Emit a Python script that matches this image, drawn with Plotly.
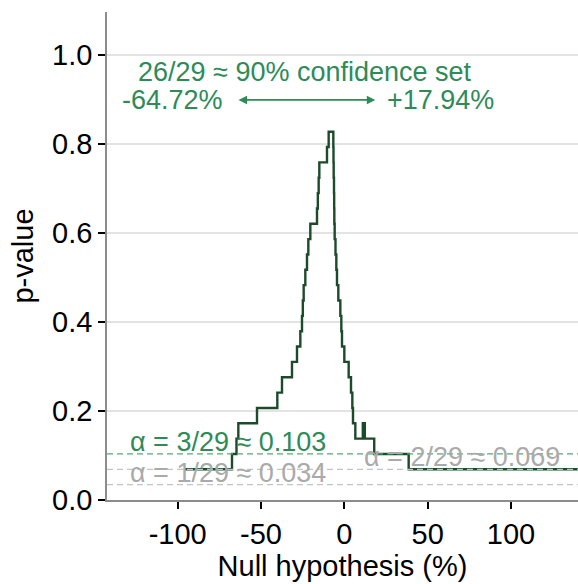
import plotly.graph_objects as go

# Step function of p-values (counts out of 29) against the null hypothesis (%)
null_hypothesis = [-96.0, -67.4, -64.72, -63.6, -52.4, -40.2, -37.4, -31.4, -28.4, -26.4,
                   -25.4, -24.9, -24.4, -23.4, -22.4, -21.6, -20.4, -16.4, -15.9, -15.4,
                   -15.0, -10.4, -9.4, -6.6, -6.5, -6.4, -6.2, -6.1, -6.0, -5.8,
                   -5.3, -4.8, -4.4, -3.6, -2.4, -1.8, -1.4, 0.0, 2.6, 4.0,
                   4.8, 5.2, 6.6, 11.1, 12.3, 17.94, 38.6, 142.0]
p_count = [2, 3, 4, 5, 6, 7, 8, 9, 10, 11,
           12, 13, 14, 15, 16, 17, 18, 19, 20, 21,
           22, 23, 24, 23, 22, 21, 20, 19, 18, 17,
           16, 15, 14, 13, 12, 11, 10, 9, 8, 7,
           6, 5, 4, 5, 4, 3, 2, 2]
n_perm = 29
p_value = [c / n_perm for c in p_count]

alpha_counts = [1, 2, 3]
alpha_labels = ["α = 1/29 ≈ 0.034", "α = 2/29 ≈ 0.069", "α = 3/29 ≈ 0.103"]
alpha_label_x = [-129.6, 10.6, -129.6]
alpha_colors = ["#aaaaaa", "#aaaaaa", "#2e8b57"]
alpha_line_colors = ["#c4c4c4", "#c4c4c4", "#5aa877"]

ci_low, ci_high = -64.72, 17.94
ci_title = "26/29 ≈ 90% confidence set"

x_ticks = [-100, -50, 0, 50, 100]
y_ticks = [0.0, 0.2, 0.4, 0.6, 0.8, 1.0]

FONT = "Liberation Sans, Arial, sans-serif"
GREEN = "#2e8b57"
ANN_SIZE = 27

fig = go.Figure()

fig.add_trace(go.Scatter(
    x=null_hypothesis, y=p_value, mode="lines", line_shape="hv",
    line=dict(color="#1c4a2b", width=2.4), showlegend=False, hoverinfo="skip"))

for c, col in zip(alpha_counts, alpha_line_colors):
    fig.add_hline(y=c / n_perm, line=dict(color=col, width=1.3, dash="6px,4px"), layer="above")

for c, lab, lx, col in zip(alpha_counts, alpha_labels, alpha_label_x, alpha_colors):
    fig.add_annotation(x=lx, y=c / n_perm, text=lab, showarrow=False,
                       xanchor="left", yanchor="bottom", yshift=-5,
                       font=dict(family=FONT, size=ANN_SIZE, color=col))

fig.add_annotation(x=(ci_low + ci_high) / 2 - 0.1, y=0.962, text=ci_title, showarrow=False,
                   font=dict(family=FONT, size=ANN_SIZE, color=GREEN))
fig.add_annotation(x=-71.4, y=0.899, text=f"{ci_low:.2f}%", showarrow=False, xanchor="right",
                   font=dict(family=FONT, size=ANN_SIZE, color=GREEN))
fig.add_annotation(x=24.6, y=0.899, text=f"+{ci_high:.2f}%", showarrow=False, xanchor="left",
                   font=dict(family=FONT, size=ANN_SIZE, color=GREEN))
fig.add_annotation(x=18.6, y=0.899, ax=-64.4, ay=0.899, axref="x", ayref="y",
                   text="", showarrow=True, arrowhead=2, startarrowhead=2,
                   arrowside="end+start", arrowsize=1, arrowwidth=1.7,
                   arrowcolor=GREEN)

fig.update_layout(
    width=578, height=584,
    margin=dict(l=107, r=0, t=12, b=84),
    paper_bgcolor="white", plot_bgcolor="white",
    font=dict(family=FONT, color="black"),
    showlegend=False,
)
fig.update_xaxes(
    range=[-142.4, 140.2], tickvals=x_ticks, ticktext=[str(v) for v in x_ticks],
    showgrid=False, zeroline=False, showline=True, linecolor="#8c8c8c", linewidth=1.5,
    ticks="outside", ticklen=7, tickwidth=2, tickcolor="black",
    tickfont=dict(size=29, color="black"),
    title=dict(text="Null hypothesis (%)", font=dict(size=29, color="black"), standoff=4),
)
fig.update_yaxes(
    range=[0, 1.0966], tickvals=y_ticks, ticktext=[f"{v:.1f}" for v in y_ticks],
    showgrid=True, gridcolor="#e3e3e3", gridwidth=2.2, zeroline=False,
    showline=True, linecolor="#8c8c8c", linewidth=1.5,
    ticks="outside", ticklen=7, tickwidth=2, tickcolor="black",
    tickfont=dict(size=29, color="black"),
    title=dict(text="p-value", font=dict(size=29, color="black"), standoff=10),
)

fig.write_html("out.html")
